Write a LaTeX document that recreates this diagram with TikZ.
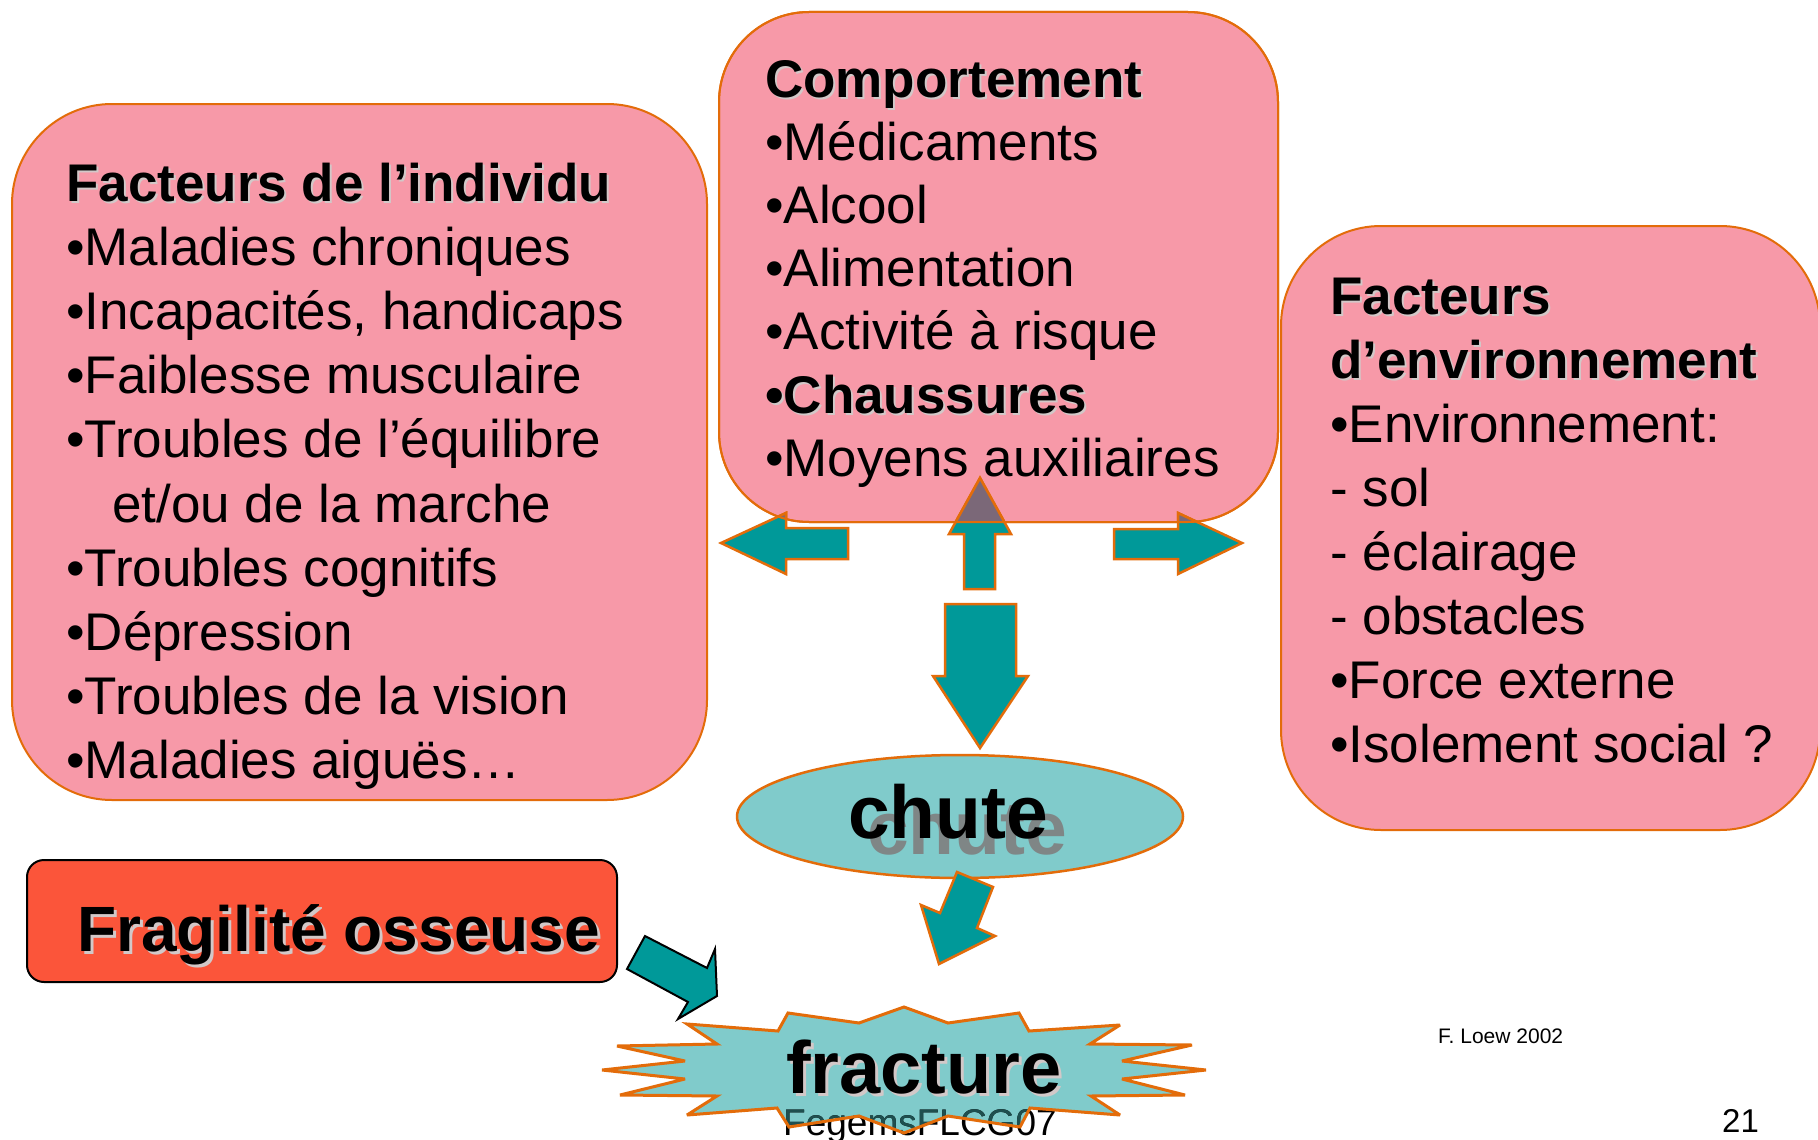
\documentclass[tikz,border=0pt]{standalone}
\usepackage{fontspec}
\setmainfont{Liberation Sans}
\usetikzlibrary{shapes.geometric}
\definecolor{boxpink}{HTML}{F799A8}
\definecolor{edgeorange}{HTML}{E36C0A}
\definecolor{arrowteal}{HTML}{009999}
\definecolor{lightteal}{HTML}{80CBCB}
\definecolor{fragred}{HTML}{FB553A}
\definecolor{overlapmauve}{HTML}{7B6878}
\definecolor{shadowgrey}{HTML}{D2C8C8}
\definecolor{bigshadow}{HTML}{7F7F7F}
\definecolor{darkteal}{HTML}{1E4F4F}
\newcommand\shadowed[2][2pt]{\leavevmode\rlap{\hspace{#1}\raisebox{-#1}{\textcolor{shadowgrey}{#2}}}#2}
\begin{document}
\begin{tikzpicture}[x=1pt,y=-1pt,
  pinkbox/.style={draw=edgeorange, line width=2pt, fill=boxpink, inner sep=0pt},
  txt/.style={anchor=base west, inner sep=0pt, font=\fontsize{53}{64}\selectfont},
  blockarrow/.style={fill=arrowteal, draw=edgeorange, line width=2.5pt, line join=miter},
  arrL/.style={insert path={(721,543) -- (786,513) -- (786,528) -- (848,528) -- (848,559) -- (786,559) -- (786,574) -- cycle}},
  arrU/.style={insert path={(980,478) -- (1011,534) -- (995,534) -- (995,589) -- (964,589) -- (964,534) -- (949,534) -- cycle}},
  arrR/.style={insert path={(1242,543) -- (1178,513) -- (1178,529) -- (1114,529) -- (1114,559) -- (1178,559) -- (1178,574) -- cycle}},
  arrD/.style={insert path={(980,748) -- (1028,676) -- (1016,676) -- (1016,604) -- (945,604) -- (945,676) -- (933,676) -- cycle}},
  starpath/.style={insert path={(904,1007) -- (948,1023) -- (1019,1013) -- (1029,1031) -- (1120,1025) -- (1090,1044) -- (1192,1045) -- (1122,1061) -- (1206,1070) -- (1122,1079) -- (1185,1095) -- (1091,1096) -- (1120,1115) -- (1030,1108) -- (1020,1127) -- (948,1116) -- (904,1133) -- (859,1116) -- (789,1127) -- (777,1108) -- (687,1115) -- (717,1096) -- (620,1095) -- (685,1079) -- (602,1070) -- (685,1061) -- (617,1046) -- (717,1044) -- (687,1024) -- (778,1031) -- (788,1013) -- (859,1023) -- cycle}}
]
\fill[white] (0,0) rectangle (1818,1140);
\useasboundingbox (0,0) rectangle (1818,1140);
\clip (0,0) rectangle (1818,1140);

% boxes
\node[pinkbox, rounded corners=100pt, minimum width=695pt, minimum height=696pt] (indiv) at (359.5,452) {};
\node[pinkbox, rounded corners=90pt, minimum width=559pt, minimum height=510pt] (comp) at (998.5,267) {};
\node[pinkbox, rounded corners=100pt, minimum width=539pt, minimum height=604pt] (env) at (1550.5,528) {};

% texts of the boxes
\foreach \t [count=\i from 0] in {{\shadowed{\textbf{Facteurs de l’individu}}}, •Maladies chroniques, {•Incapacités, handicaps}, •Faiblesse musculaire, •Troubles de l’équilibre, {\hspace*{46pt}et/ou de la marche}, •Troubles cognitifs, •Dépression, •Troubles de la vision, •Maladies aiguës…}
  \node[txt] (ind\i) at (66,201+64.2*\i) {\t};

\foreach \t [count=\i from 0] in {{\shadowed{\textbf{Comportement}}}, •Médicaments, •Alcool, •Alimentation, •Activité à risque, {\shadowed{\textbf{•Chaussures}}}, •Moyens auxiliaires}
  \node[txt] (comp\i) at (765,97.5+63.1*\i) {\t};

\foreach \t [count=\i from 0] in {{\shadowed{\textbf{Facteurs}}}, {\shadowed{\textbf{d’environnement}}}, •Environnement:, - sol, - éclairage, - obstacles, •Force externe, •Isolement social ?}
  \node[txt] (env\i) at (1330,314+64*\i) {\t};

% block arrows around the centre box
\path[blockarrow, arrL];
\path[blockarrow, arrU];
\path[blockarrow, arrR];
\path[blockarrow, arrD];
\begin{scope}
  \clip[rounded corners=90pt] (719,12) rectangle (1278,522);
  \path[fill=overlapmauve, draw=edgeorange, line width=2.5pt, arrL];
  \path[fill=overlapmauve, draw=edgeorange, line width=2.5pt, arrU];
  \path[fill=overlapmauve, draw=edgeorange, line width=2.5pt, arrR];
\end{scope}
\draw[edgeorange, line width=2pt, rounded corners=90pt] (719,12) rectangle (1278,522);

% chute
\node[ellipse, draw=edgeorange, line width=2.5pt, fill=lightteal, minimum width=446pt, minimum height=123pt, inner sep=0pt] (chute) at (960,816.5) {};
\node[anchor=base west, inner sep=0pt, font=\fontsize{75}{80}\selectfont\bfseries, text=bigshadow, opacity=0.9] (chuteshadow) at (867,854) {chute};
\node[anchor=base west, inner sep=0pt, font=\fontsize{75}{80}\selectfont\bfseries] (chutetext) at (848,838) {chute};

% chute -> fracture arrow
\path[blockarrow] (957,872) -- (993,887) -- (977,928) -- (995,936) -- (939,964) -- (921,905) -- (940,913) -- cycle;

% fragilite osseuse
\node[draw=black, line width=2pt, fill=fragred, rounded corners=17pt, minimum width=590pt, minimum height=122pt, inner sep=0pt] (frag) at (322,921) {};
\node[anchor=base west, inner sep=0pt, font=\fontsize{64}{70}\selectfont\bfseries] (fragtext) at (77,951) {\shadowed[3pt]{Fragilité osseuse}};
\path[fill=arrowteal, draw=black, line width=2pt, line join=miter] (645,936) -- (707,968) -- (715,949) -- (717,996) -- (678,1019) -- (688,1002) -- (627,969) -- cycle;

% fracture star
\path[fill=lightteal, starpath];
\node[anchor=base west, inner sep=0pt, font=\fontsize{37}{40}\selectfont] (fegems) at (783,1135) {FegemsFLCG07};
\begin{scope}
  \clip[starpath];
  \node[anchor=base west, inner sep=0pt, font=\fontsize{37}{40}\selectfont, text=darkteal] (fegemsin) at (783,1135) {FegemsFLCG07};
\end{scope}
\path[draw=edgeorange, line width=3pt, line join=miter, miter limit=4, starpath];
\node[anchor=base west, inner sep=0pt, font=\fontsize{74}{80}\selectfont\bfseries] (fracture) at (786,1093) {\shadowed[3pt]{fracture}};

% footer texts
\node[anchor=base west, inner sep=0pt, font=\fontsize{21}{24}\selectfont] (loew) at (1438,1043) {F. Loew 2002};
\node[anchor=base west, inner sep=0pt, font=\fontsize{33}{36}\selectfont] (page) at (1722,1132) {21};
\end{tikzpicture}
\end{document}
